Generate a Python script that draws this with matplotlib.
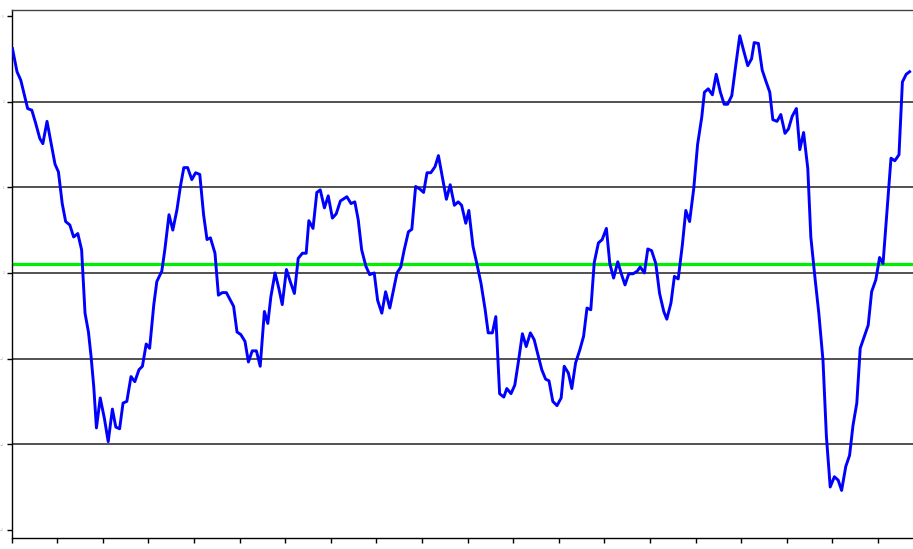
import numpy as np
import matplotlib
matplotlib.use("Agg")
import matplotlib.pyplot as plt

# monthly index and value of the series
months = [0.2, 1.4, 2.4, 4.2, 5.3, 6.3, 7.4, 8.2, 9.3, 11.4, 12.3, 13.3, 14.2, 15.3, 16.3, 17.4,
          18.4, 19.3, 20.2, 20.9, 21.6, 22.3, 23.3, 24.4, 25.4, 26.5, 27.4, 28.4, 29.3, 30.3,
          31.4, 32.4, 33.5, 34.4, 35.4, 36.3, 37.4, 38.2, 39.5, 40.3, 41.4, 42.4, 43.5, 44.4,
          45.3, 46.3, 47.4, 48.4, 49.5, 50.5, 51.4, 52.3, 53.5, 54.4, 55.4, 56.5, 58.4, 59.3,
          60.3, 61.4, 62.3, 63.3, 64.4, 65.4, 66.5, 67.4, 68.2, 69.3, 70.3, 71.2, 72.3, 73.3,
          74.4, 75.4, 76.5, 77.5, 78.2, 79.3, 80.3, 81.2, 82.3, 83.3, 84.4, 85.4, 86.5, 88.2,
          89.3, 90.3, 91.2, 92.1, 93.2, 94.2, 95.4, 96.3, 97.4, 98.4, 99.5, 100.3, 101.4, 102.4,
          103.3, 104.4, 105.3, 106.3, 107.4, 108.4, 109.3, 110.3, 111.4, 112.3, 113.3, 114.4,
          115.4, 116.5, 117.5, 118.4, 119.5, 120.3, 121.4, 122.4, 123.5, 124.6, 125.4, 126.5,
          127.4, 128.4, 129.5, 130.3, 131.4, 132.4, 133.3, 134.4, 135.4, 136.5, 137.5, 138.4,
          139.5, 140.5, 141.4, 142.4, 143.5, 144.6, 145.4, 146.5, 147.4, 148.4, 149.5, 150.5,
          151.4, 152.4, 153.3, 154.4, 155.4, 156.5, 157.4, 158.4, 159.5, 160.5, 161.4, 162.4,
          163.5, 164.6, 165.4, 166.5, 167.4, 168.4, 169.5, 170.5, 171.6, 172.4, 173.5, 174.4,
          175.4, 176.5, 177.4, 178.4, 179.5, 180.5, 181.6, 182.3, 183.3, 184.4, 185.4, 186.5,
          187.5, 188.4, 189.5, 190.5, 191.6, 192.6, 193.7, 194.7, 195.4, 196.5, 197.5, 198.4,
          199.5, 200.3, 201.4, 202.4, 203.5, 204.4, 205.4, 206.5, 207.4, 208.4, 209.5, 210.3,
          211.4, 212.4, 213.5, 214.4, 215.4, 216.5, 217.5, 218.4, 219.5, 220.5, 221.4, 222.4,
          223.3, 224.4, 225.4, 226.3, 227.4, 228.4, 229.3, 230.3, 231.4, 232.4, 233.5, 234.4,
          235.4, 236.3]
values = [2.62, 2.35, 2.25, 1.92, 1.90, 1.75, 1.57, 1.51, 1.77, 1.27, 1.18, 0.81, 0.60, 0.56,
          0.42, 0.46, 0.27, -0.47, -0.69, -0.98, -1.33, -1.81, -1.46, -1.70, -1.97, -1.59,
          -1.80, -1.82, -1.52, -1.50, -1.21, -1.27, -1.13, -1.09, -0.83, -0.88, -0.37, -0.10,
          0.02, 0.27, 0.68, 0.50, 0.74, 1.01, 1.23, 1.23, 1.09, 1.17, 1.15, 0.68, 0.39, 0.41,
          0.23, -0.26, -0.23, -0.23, -0.39, -0.69, -0.72, -0.80, -1.04, -0.91, -0.91, -1.09,
          -0.45, -0.59, -0.28, 0.00, -0.18, -0.37, 0.04, -0.10, -0.24, 0.17, 0.23, 0.23, 0.61,
          0.52, 0.94, 0.97, 0.76, 0.90, 0.64, 0.69, 0.84, 0.89, 0.81, 0.83, 0.62, 0.27, 0.08,
          -0.02, 0.00, -0.32, -0.47, -0.22, -0.41, -0.24, 0.00, 0.07, 0.27, 0.48, 0.51, 1.01,
          0.98, 0.94, 1.17, 1.17, 1.24, 1.37, 1.13, 0.86, 1.03, 0.79, 0.83, 0.79, 0.58, 0.73,
          0.31, 0.11, -0.12, -0.43, -0.70, -0.70, -0.51, -1.41, -1.45, -1.35, -1.41, -1.31,
          -1.05, -0.71, -0.86, -0.70, -0.78, -0.94, -1.13, -1.24, -1.26, -1.50, -1.55, -1.46,
          -1.09, -1.17, -1.35, -1.05, -0.90, -0.74, -0.41, -0.43, 0.12, 0.35, 0.39, 0.52, 0.11,
          -0.06, 0.13, -0.02, -0.14, -0.01, -0.01, 0.02, 0.07, 0.00, 0.28, 0.26, 0.11, -0.24,
          -0.45, -0.54, -0.35, -0.04, -0.07, 0.33, 0.73, 0.60, 0.99, 1.50, 1.82, 2.11, 2.15,
          2.08, 2.32, 2.11, 1.97, 1.97, 2.07, 2.41, 2.77, 2.60, 2.42, 2.50, 2.69, 2.68, 2.37,
          2.25, 2.11, 1.79, 1.77, 1.85, 1.63, 1.68, 1.83, 1.92, 1.44, 1.64, 1.22, 0.42, -0.06,
          -0.47, -1.02, -1.91, -2.50, -2.38, -2.42, -2.54, -2.26, -2.13, -1.78, -1.52, -0.88,
          -0.74, -0.61, -0.22, -0.08, 0.18, 0.11, 0.70, 1.34, 1.31, 1.38, 2.23, 2.32, 2.35]
level = 0.105
hlines = [-2, -1, 0, 1, 2]
yticks = [-3, -2, -1, 0, 1, 2, 3]
xticks = np.arange(0, 240, 12)

fig = plt.figure(figsize=(9.13, 5.49), dpi=100)
ax = fig.add_axes([0.0128, 0.0209, 0.9989, 0.9608])

for h in hlines:
    ax.axhline(h, color="#222222", lw=1.1, zorder=1)
ax.axhline(level, color="#00ee00", lw=2.3, zorder=2)
ax.plot(months, values, color="#0000ff", lw=2.1, zorder=3)

ax.set_xlim(0, 240)
ax.set_ylim(-3.09, 3.07)
ax.set_xticks(xticks)
ax.set_yticks(yticks)
ax.tick_params(axis="both", length=3.5, width=1, pad=2)
ax.tick_params(axis="x", labelbottom=False)
ax.tick_params(axis="y", labelsize=2, labelcolor="#aaaaaa")
for s in ax.spines.values():
    s.set_linewidth(1.0)
ax.spines["top"].set_color("#444444")

fig.savefig("out.png", dpi=100)
